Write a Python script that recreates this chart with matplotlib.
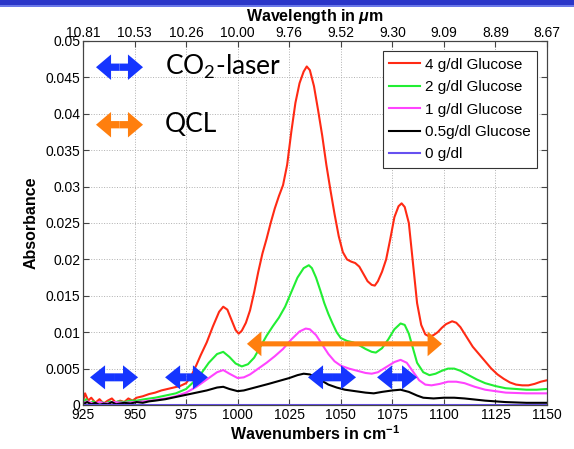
import numpy as np
import matplotlib
matplotlib.use("Agg")
import matplotlib.pyplot as plt
from matplotlib.patches import FancyArrow, Rectangle

plt.rcParams['font.family'] = 'Liberation Sans'
plt.rcParams['mathtext.fontset'] = 'custom'
plt.rcParams['mathtext.rm'] = 'Liberation Sans:bold'
plt.rcParams['mathtext.it'] = 'Liberation Sans:bold:italic'
plt.rcParams['mathtext.bf'] = 'Liberation Sans:bold'

# ---- data ----
wn_red = [925, 926, 927.5, 929, 931, 933, 935, 937, 939, 941, 943, 945, 947, 949, 951, 954, 957, 960,
          963, 966, 969, 972, 975, 977.5, 980, 982, 985, 988, 991, 993, 995, 997, 999, 1000.5, 1002,
          1004, 1006, 1008, 1010, 1012, 1014, 1016, 1018, 1020, 1022, 1024, 1026, 1028, 1030, 1032,
          1033.5, 1035, 1037, 1039, 1041, 1043, 1045, 1047, 1049, 1051, 1053, 1055, 1057, 1059, 1061,
          1063, 1065, 1066.5, 1068, 1070, 1072, 1074, 1076, 1078, 1079.5, 1081, 1083, 1085, 1087, 1089,
          1091, 1093, 1095, 1097, 1099, 1101, 1104, 1106, 1108, 1110, 1112, 1114, 1117, 1120, 1123,
          1126, 1129, 1132, 1135, 1138, 1141, 1144, 1147, 1150]
abs_red = [0.0005, 0.0016, 0.0006, 0.0010, 0.0003, 0.0008, 0.0002, 0.0006, 0.0009, 0.0003, 0.0006,
           0.0004, 0.0009, 0.0006, 0.0010, 0.0012, 0.0015, 0.0017, 0.0020, 0.0022, 0.0024, 0.0026,
           0.0030, 0.0040, 0.0055, 0.0068, 0.0086, 0.0108, 0.0128, 0.0135, 0.0131, 0.0117, 0.0103,
           0.0098, 0.0102, 0.0113, 0.0130, 0.0155, 0.0183, 0.0208, 0.0228, 0.0250, 0.0270, 0.0287,
           0.0302, 0.0330, 0.0375, 0.0415, 0.0442, 0.0458, 0.0465, 0.0460, 0.0438, 0.0405, 0.0370,
           0.0330, 0.0295, 0.0262, 0.0232, 0.0210, 0.0200, 0.0197, 0.0195, 0.0190, 0.0180, 0.0170,
           0.0165, 0.0164, 0.0170, 0.0183, 0.0200, 0.0228, 0.0258, 0.0273, 0.0277, 0.0272, 0.0250,
           0.0195, 0.0140, 0.0110, 0.0097, 0.0094, 0.0096, 0.0100, 0.0106, 0.0111, 0.0115, 0.0113,
           0.0107, 0.0098, 0.0089, 0.0080, 0.0070, 0.0060, 0.0050, 0.0042, 0.0036, 0.0031, 0.0028,
           0.0027, 0.0027, 0.0029, 0.0032, 0.0034]

wn_green = [925, 926.5, 928, 930, 932, 934, 936, 938, 940, 942, 945, 948, 951, 955, 960, 965, 970, 975,
            978, 982, 986, 990, 993, 996, 999, 1002, 1005, 1008, 1011, 1014, 1017, 1020, 1023, 1026,
            1029, 1032, 1034.5, 1036, 1038, 1040, 1042, 1044, 1046, 1048, 1050, 1053, 1056, 1059, 1062,
            1065, 1067, 1070, 1073, 1076, 1079, 1081, 1083, 1085, 1087, 1090, 1093, 1096, 1099, 1102,
            1105, 1108, 1112, 1116, 1120, 1125, 1130, 1135, 1140, 1145, 1150]
abs_green = [0.0003, 0.0008, 0.0002, 0.0005, 0.0001, 0.0004, 0.0002, 0.0005, 0.0003, 0.0005, 0.0004,
             0.0006, 0.0006, 0.0008, 0.0010, 0.0013, 0.0016, 0.0022, 0.0030, 0.0042, 0.0058, 0.0070,
             0.0073, 0.0066, 0.0057, 0.0053, 0.0056, 0.0065, 0.0080, 0.0095, 0.0108, 0.0120, 0.0135,
             0.0155, 0.0175, 0.0188, 0.0192, 0.0188, 0.0175, 0.0158, 0.0140, 0.0125, 0.0112, 0.0100,
             0.0092, 0.0088, 0.0086, 0.0082, 0.0077, 0.0073, 0.0072, 0.0078, 0.0090, 0.0104, 0.0112,
             0.0110, 0.0098, 0.0078, 0.0058, 0.0045, 0.0041, 0.0043, 0.0047, 0.0050, 0.0050, 0.0047,
             0.0041, 0.0035, 0.0030, 0.0026, 0.0023, 0.0022, 0.0021, 0.0021, 0.0022]

wn_mag = [925, 927, 930, 933, 936, 940, 945, 950, 955, 960, 965, 970, 975, 980, 985, 990, 993, 996, 1000,
          1003, 1006, 1010, 1014, 1018, 1022, 1026, 1030, 1033, 1035, 1038, 1041, 1044, 1047, 1050,
          1054, 1058, 1062, 1065, 1068, 1072, 1076, 1079, 1082, 1085, 1088, 1091, 1094, 1098, 1102,
          1106, 1110, 1115, 1120, 1125, 1130, 1140, 1150]
abs_mag = [0.0002, 0.0005, 0.0002, 0.0004, 0.0002, 0.0004, 0.0003, 0.0004, 0.0005, 0.0007, 0.0009,
           0.0012, 0.0017, 0.0025, 0.0035, 0.0045, 0.0048, 0.0043, 0.0037, 0.0038, 0.0042, 0.0050,
           0.0058, 0.0067, 0.0077, 0.0090, 0.0101, 0.0105, 0.0104, 0.0096, 0.0083, 0.0070, 0.0060,
           0.0054, 0.0050, 0.0047, 0.0044, 0.0043, 0.0045, 0.0052, 0.0059, 0.0062, 0.0058, 0.0046,
           0.0034, 0.0028, 0.0027, 0.0029, 0.0032, 0.0032, 0.0030, 0.0025, 0.0021, 0.0019, 0.0017,
           0.0016, 0.0016]

wn_black = [925, 927, 929, 931, 933, 935, 937, 939, 941, 943, 945, 948, 951, 954, 957, 960, 965, 970,
            975, 980, 985, 990, 993, 996, 1000, 1003, 1007, 1011, 1015, 1020, 1025, 1029, 1032, 1035,
            1038, 1041, 1044, 1048, 1052, 1057, 1062, 1066, 1070, 1075, 1079, 1083, 1087, 1090, 1095,
            1100, 1105, 1110, 1120, 1130, 1140, 1150]
abs_black = [0.0001, 0.0004, 0.0001, 0.0003, 0.0000, 0.0002, 0.0001, 0.0004, 0.0001, 0.0002, 0.0003,
             0.0002, 0.0004, 0.0003, 0.0005, 0.0006, 0.0008, 0.0011, 0.0014, 0.0017, 0.0020, 0.0024,
             0.0025, 0.0022, 0.0019, 0.0020, 0.0023, 0.0026, 0.0029, 0.0033, 0.0037, 0.0041, 0.0043,
             0.0042, 0.0038, 0.0033, 0.0028, 0.0024, 0.0021, 0.0019, 0.0017, 0.0016, 0.0018, 0.0020,
             0.0021, 0.0018, 0.0013, 0.0010, 0.0009, 0.0010, 0.0010, 0.0009, 0.0006, 0.0004, 0.0003,
             0.0003]

wn_zero = [925, 1150]
abs_zero = [0.0, 0.0]

labels = ['4 g/dl Glucose', '2 g/dl Glucose', '1 g/dl Glucose', '0.5g/dl Glucose', '0 g/dl']
colors = ['#ff2a14', '#22ee33', '#ff44ff', '#000000', '#6650f0']

xticks = [925, 950, 975, 1000, 1025, 1050, 1075, 1100, 1125, 1150]
top_labels = ['10.81', '10.53', '10.26', '10.00', '9.76', '9.52', '9.30', '9.09', '8.89', '8.67']
yticks = [0, 0.005, 0.01, 0.015, 0.02, 0.025, 0.03, 0.035, 0.04, 0.045, 0.05]
ylabels = ['0', '0.005', '0.01', '0.015', '0.02', '0.025', '0.03', '0.035', '0.04', '0.045', '0.05']

# arrows: (start wavenumber, end wavenumber, absorbance)
co2_arrows = [(928.4, 951.7, 0.0038), (964.8, 985.6, 0.0038),
              (1034.1, 1057.4, 0.0038), (1067.6, 1087.0, 0.0038)]
qcl_arrow = (1004.5, 1099.1, 0.0084)
key_co2 = (931.3, 954.1, 0.0464)
key_qcl = (931.3, 954.1, 0.0385)

# ---- figure ----
fig = plt.figure(figsize=(5.74, 4.49), dpi=100)
ax = fig.add_axes([83/574, 1 - 405/449, 464/574, 364/449])

series = [(wn_red, abs_red), (wn_green, abs_green), (wn_mag, abs_mag),
          (wn_black, abs_black), (wn_zero, abs_zero)]
for (x, y), c, lab in zip(series, colors, labels):
    ax.plot(x, y, color=c, lw=1.5, label=lab)

ax.set_xlim(925, 1150)
ax.set_ylim(0, 0.05)
ax.set_xticks(xticks)
ax.set_yticks(yticks)
ax.set_yticklabels(ylabels)
ax.grid(True, ls=':', color='#b0b0b0', lw=0.7)
ax.tick_params(direction='in', length=4, labelsize=10, right=True, pad=2,
               color='#444444')
for s in ax.spines.values():
    s.set_color('#444444')
ax.set_xlabel(r'Wavenumbers in cm$^{\mathbf{-1}}$', fontsize=11.5, fontweight='bold', labelpad=2)
ax.set_ylabel('Absorbance', fontsize=11.5, fontweight='bold', labelpad=5)

# top axis in wavelength
top = ax.twiny()
top.set_xlim(ax.get_xlim())
top.set_xticks(xticks)
top.set_xticklabels(top_labels)
top.tick_params(direction='in', length=4, labelsize=10, pad=1, color='#444444')
top.set_xlabel(r'Wavelength in $\mu$m', fontsize=11.5, fontweight='bold', labelpad=3)
for s in top.spines.values():
    s.set_color('#444444')


def double_arrow(x0, x1, y, color, shaft, head_w, head_l):
    xc = (x0 + x1) / 2
    for end in (x0, x1):
        ax.add_patch(FancyArrow(xc, y, end - xc, 0, width=shaft, head_width=head_w,
                                head_length=head_l, length_includes_head=True,
                                color=color, lw=0, zorder=5, clip_on=False))


blue = '#1535ff'
orange = '#ff7f0e'
for a0, a1, ay in co2_arrows:
    double_arrow(a0, a1, ay, blue, 0.0011, 0.0033, 7.3)
double_arrow(*qcl_arrow, orange, 0.0007, 0.0034, 7.0)
double_arrow(*key_co2, blue, 0.0010, 0.0035, 7.3)
double_arrow(*key_qcl, orange, 0.0010, 0.0035, 7.3)

ax.text(964.8, key_co2[2], r'CO$_{\mathregular{2}}$-laser', fontsize=19, family='Lato',
        va='center', ha='left')
ax.text(964.8, key_qcl[2], 'QCL', fontsize=19, family='Lato', va='center', ha='left')

leg = ax.legend(loc='upper right', bbox_to_anchor=(0.979, 0.973), fontsize=11,
                fancybox=False, edgecolor='#333333', framealpha=1,
                handlelength=2.0, handletextpad=0.3, labelspacing=0.55, borderpad=0.45,
                borderaxespad=0)
leg.get_frame().set_linewidth(0.8)

# blue band across the top of the slide
fig.add_artist(Rectangle((0, 1 - 5/449), 1, 5/449, transform=fig.transFigure,
                         color='#2a36c8', lw=0))
fig.add_artist(Rectangle((0, 1 - 6.5/449), 1, 1.5/449, transform=fig.transFigure,
                         color='#6a78e8', lw=0))

fig.savefig('out.png', dpi=100)
